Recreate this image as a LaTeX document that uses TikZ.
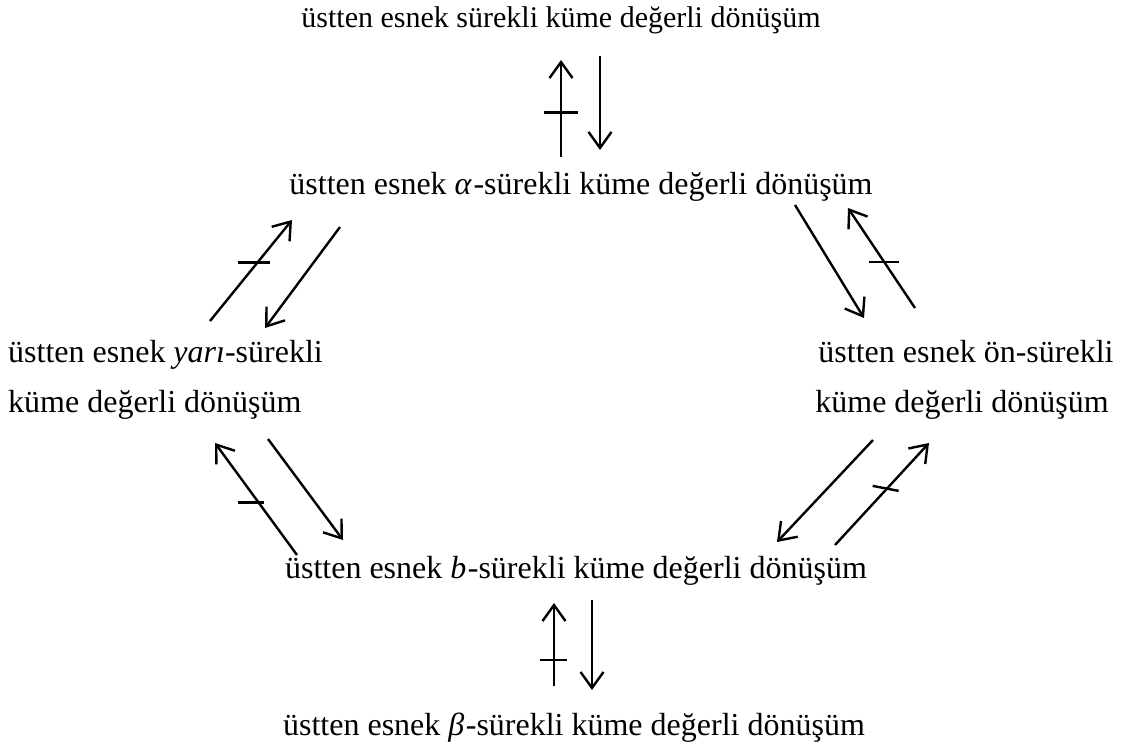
\documentclass[tikz,border=0pt]{standalone}
\usepackage{fontspec}
\setmainfont{Liberation Serif}
\usetikzlibrary{arrows.meta,calc}
\tikzset{
  lbl/.style={inner sep=0pt, font=\fontsize{32}{38}\selectfont},
  lbltop/.style={inner sep=0pt, font=\fontsize{30}{36}\selectfont},
  arr/.style={line width=2.4pt, -{Straight Barb[length=16pt,width=23pt,line width=2.4pt]}},
  tickmark/.style={line width=2.4pt}
}
\begin{document}
\begin{tikzpicture}[x=1pt,y=-1pt]
\useasboundingbox (0,0) rectangle (1123,751);
% nodes
\node[lbltop,anchor=base] (top) at (561,28) {üstten esnek sürekli küme değerli dönüşüm};
\node[lbl,anchor=base] (alpha) at (581,195) {üstten esnek \textit{α}\kern1.5pt-sürekli küme değerli dönüşüm};
\node[lbl,anchor=base west] (semiA) at (8,362) {üstten esnek \textit{yarı}-sürekli};
\node[lbl,anchor=base west] (semiB) at (8,412) {küme değerli dönüşüm};
\node[lbl,anchor=base] (preA) at (966,362) {üstten esnek ön-sürekli};
\node[lbl,anchor=base] (preB) at (962,412) {küme değerli dönüşüm};
\node[lbl,anchor=base] (bcont) at (576,578) {üstten esnek \textit{b}\kern1.5pt-sürekli küme değerli dönüşüm};
\node[lbl,anchor=base] (beta) at (574,735) {üstten esnek \textit{β}\kern1.5pt-sürekli küme değerli dönüşüm};
% arrow end points
\coordinate (t1s) at (561,157); \coordinate (t1e) at (561,60);
\coordinate (t2s) at (600,56);  \coordinate (t2e) at (600,150);
\coordinate (ul1s) at (210,321); \coordinate (ul1e) at (292,220);
\coordinate (ul2s) at (340,227); \coordinate (ul2e) at (265,328);
\coordinate (ur1s) at (795,205); \coordinate (ur1e) at (864,318);
\coordinate (ur2s) at (915,308); \coordinate (ur2e) at (848,208);
\coordinate (ll1s) at (297,555); \coordinate (ll1e) at (215,443);
\coordinate (ll2s) at (268,439); \coordinate (ll2e) at (343,540);
\coordinate (lr1s) at (873,440); \coordinate (lr1e) at (777,542);
\coordinate (lr2s) at (835,545); \coordinate (lr2e) at (929,443);
\coordinate (b1s) at (554,686); \coordinate (b1e) at (554,603);
\coordinate (b2s) at (592,600); \coordinate (b2e) at (592,690);
% arrows
\draw[arr] (t1s) -- (t1e);
\draw[arr] (t2s) -- (t2e);
\draw[arr] (ul1s) -- (ul1e);
\draw[arr] (ul2s) -- (ul2e);
\draw[arr] (ur1s) -- (ur1e);
\draw[arr] (ur2s) -- (ur2e);
\draw[arr] (ll1s) -- (ll1e);
\draw[arr] (ll2s) -- (ll2e);
\draw[arr] (lr1s) -- (lr1e);
\draw[arr] (lr2s) -- (lr2e);
\draw[arr] (b1s) -- (b1e);
\draw[arr] (b2s) -- (b2e);
% negation ticks
\draw[tickmark] ($(t1s)!0.46!(t1e)$) ++(-17,0) -- ++(34,0);
\draw[tickmark] ($(ul1s)!0.58!(ul1e)$) ++(-20,0) -- ++(32,0);
\draw[tickmark] ($(ur2s)!0.46!(ur2e)$) ++(-15,0) -- ++(30,0);
\draw[tickmark] ($(ll1s)!0.47!(ll1e)$) ++(-20,0) -- ++(26,0);
\draw[tickmark] ($(lr2s)!0.56!(lr2e)$) ++(-15,-2) -- ++(26,5);
\draw[tickmark] ($(b1s)!0.31!(b1e)$) ++(-14,0) -- ++(27,0);
\end{tikzpicture}
\end{document}
